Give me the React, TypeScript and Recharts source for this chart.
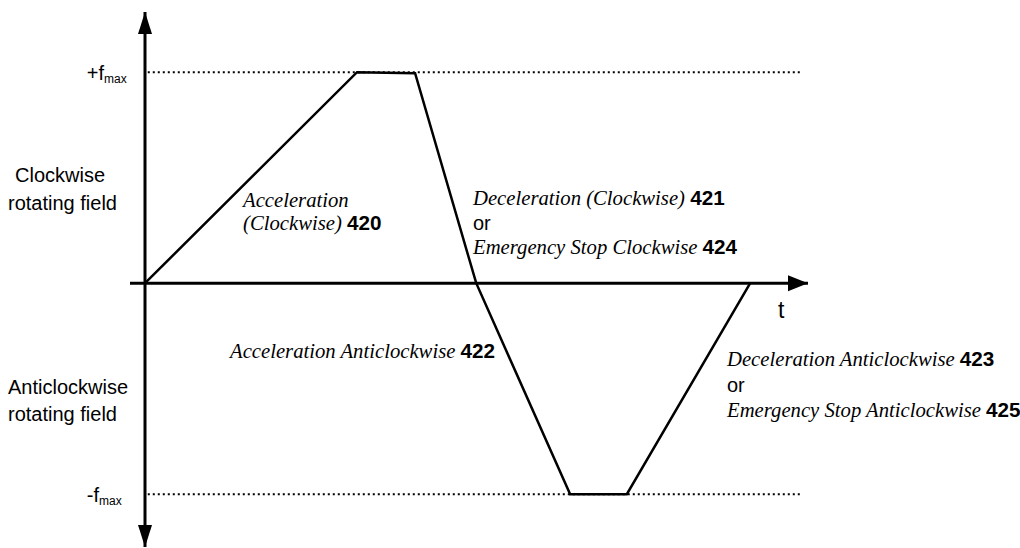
import React from 'react'
import { LineChart, Line, XAxis, YAxis, ReferenceLine } from 'recharts'

// time (arbitrary units) and normalised field frequency f / f_max
const times = [0, 3.815, 4.86, 5.96, 7.65, 8.67, 10.89]
const freqs = [0, 1, 0.995, 0, -1, -1, 0]
const tDomain = [-0.27, 11.93]
const fDomain = [-1.25, 1.285]
const dotStart = 0.05
const dotEnd = 11.79

const data = times.map((t, i) => ({ t, f: freqs[i] }))

const serif = { fontFamily: "'Liberation Serif', 'Times New Roman', Times, 'DejaVu Serif', serif", fontStyle: 'italic' as const }
const sans = { fontFamily: 'Liberation Sans' }
const num = { fontFamily: 'Liberation Sans', fontWeight: 'bold' as const }

const VArrows = ({ viewBox }: any) => {
  if (!viewBox) return null
  const { x, y, height } = viewBox
  const b = y + height
  return (
    <g fill="#000">
      <polygon points={`${x},${y} ${x - 7},${y + 22} ${x + 7},${y + 22}`} />
      <polygon points={`${x},${b} ${x - 7},${b - 22} ${x + 7},${b - 22}`} />
    </g>
  )
}

const HArrow = ({ viewBox }: any) => {
  if (!viewBox) return null
  const { x, y, width } = viewBox
  const e = x + width
  return <polygon fill="#000" points={`${e},${y} ${e - 20},${y - 8} ${e - 20},${y + 8}`} />
}

const FmaxLabel = (sign: string) => ({ viewBox }: any) => {
  if (!viewBox) return null
  const { x, y } = viewBox
  return (
    <text x={x - 61} y={y + 8} style={{ ...sans, fontSize: 20 }} fill="#000">
      {sign}f<tspan style={{ fontSize: 12 }} dy={3}>max</tspan>
    </text>
  )
}

const Notes = () => (
  <svg width={1020} height={548} style={{ position: 'absolute', left: 0, top: 0, pointerEvents: 'none' }}>
    <g style={{ ...sans, fontSize: 20 }} fill="#000">
      <text x={15} y={182}>Clockwise</text>
      <text x={8} y={210}>rotating field</text>
      <text x={8} y={394}>Anticlockwise</text>
      <text x={8} y={421}>rotating field</text>
      <text x={778} y={318} style={{ fontSize: 23 }}>t</text>
      <text x={473} y={230}>or</text>
      <text x={727} y={392}>or</text>
    </g>
    <g style={{ fontSize: 20.7 }} fill="#000">
      <text x={243} y={207} style={serif}>Acceleration</text>
      <text x={243} y={230}>
        <tspan style={serif}>(Clockwise) </tspan>
        <tspan style={num}>420</tspan>
      </text>
      <text x={473} y={205}>
        <tspan style={serif}>Deceleration (Clockwise) </tspan>
        <tspan style={num}>421</tspan>
      </text>
      <text x={473} y={254}>
        <tspan style={serif}>Emergency Stop Clockwise </tspan>
        <tspan style={num}>424</tspan>
      </text>
      <text x={230} y={358}>
        <tspan style={serif}>Acceleration Anticlockwise </tspan>
        <tspan style={num}>422</tspan>
      </text>
      <text x={727} y={366}>
        <tspan style={serif}>Deceleration Anticlockwise </tspan>
        <tspan style={num}>423</tspan>
      </text>
      <text x={727} y={417}>
        <tspan style={serif}>Emergency Stop Anticlockwise </tspan>
        <tspan style={num}>425</tspan>
      </text>
    </g>
  </svg>
)

export default function App() {
  return (
    <div style={{ position: 'absolute', left: 0, top: 0, width: 1020, height: 548, background: '#fff' }}>
      <LineChart width={1020} height={548} data={data} margin={{ top: 12, right: 212, left: 130, bottom: 1 }}>
        <XAxis dataKey="t" type="number" domain={tDomain} allowDataOverflow hide />
        <YAxis type="number" domain={fDomain} allowDataOverflow hide />
        <ReferenceLine
          segment={[{ x: dotStart, y: 1 }, { x: dotEnd, y: 1 }]}
          stroke="#000" strokeWidth={2} strokeDasharray="2 3" ifOverflow="visible"
          label={FmaxLabel('+')}
        />
        <ReferenceLine
          segment={[{ x: dotStart, y: -1 }, { x: dotEnd, y: -1 }]}
          stroke="#000" strokeWidth={2} strokeDasharray="2 3" ifOverflow="visible"
          label={FmaxLabel('-')}
        />
        <ReferenceLine
          segment={[{ x: tDomain[0], y: 0 }, { x: tDomain[1], y: 0 }]}
          stroke="#000" strokeWidth={3} ifOverflow="visible"
          label={<HArrow />}
        />
        <ReferenceLine
          segment={[{ x: 0, y: fDomain[0] }, { x: 0, y: fDomain[1] }]}
          stroke="#000" strokeWidth={3} ifOverflow="visible"
          label={<VArrows />}
        />
        <Line type="linear" dataKey="f" stroke="#000" strokeWidth={2.5} dot={false} isAnimationActive={false} />
      </LineChart>
      <Notes />
    </div>
  )
}
